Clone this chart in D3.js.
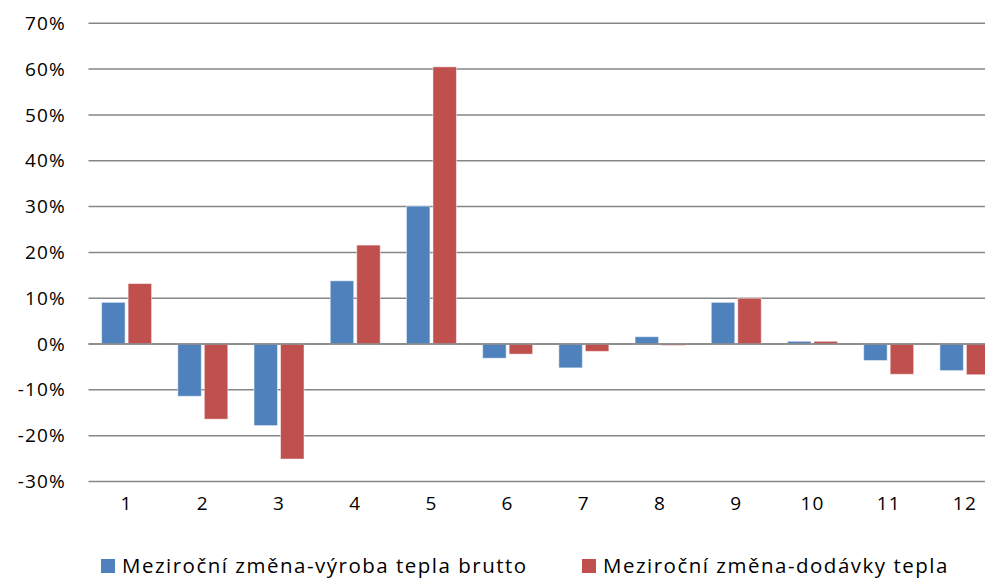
<!DOCTYPE html>
<html>
<head>
<meta charset="utf-8">
<script src="https://cdn.jsdelivr.net/npm/d3@7/dist/d3.min.js"></script>
<style>
  html, body { margin: 0; padding: 0; background: #fff; }
  svg { display: block; }
  text { font-family: "Open Sans", sans-serif; fill: #000; }
</style>
</head>
<body>
<svg id="chart" width="985" height="579"></svg>
<script>
// Months of the year
const categories = ["1", "2", "3", "4", "5", "6", "7", "8", "9", "10", "11", "12"];
// Year-on-year change of gross heat production (%)
const vyroba = [9.1, -11.4, -17.8, 13.8, 30.1, -3.1, -5.2, 1.6, 9.1, 0.6, -3.6, -5.8];
// Year-on-year change of heat supply (%)
const dodavky = [13.2, -16.4, -25.1, 21.6, 60.5, -2.2, -1.6, -0.3, 10.0, 0.6, -6.6, -6.7];
const seriesNames = ["Meziroční změna-výroba tepla brutto", "Meziroční změna-dodávky tepla"];
const yTicks = [-30, -20, -10, 0, 10, 20, 30, 40, 50, 60, 70];
const colors = ["#4F81BD", "#C0504D"];

const svg = d3.select("#chart");
const plot = { left: 88.5, right: 1003, top: 23.3, bottom: 481.5 };

const x = d3.scaleBand().domain(categories).range([plot.left, plot.right]).paddingInner(0).paddingOuter(0);
const y = d3.scaleLinear().domain([-30, 70]).range([plot.bottom, plot.top]);

// Horizontal gridlines
svg.append("g")
  .selectAll("line")
  .data(yTicks)
  .join("line")
  .attr("x1", plot.left)
  .attr("x2", plot.right)
  .attr("y1", d => y(d))
  .attr("y2", d => y(d))
  .attr("stroke", "#868686")
  .attr("stroke-width", 1.5);

// Y axis labels
const yAxis = d3.axisLeft(y).tickValues(yTicks).tickFormat(d => d + "%").tickSize(0).tickPadding(0);
const gy = svg.append("g").attr("transform", `translate(66,0)`).call(yAxis);
gy.select(".domain").remove();
gy.selectAll("text")
  .attr("font-size", 19)
  .attr("letter-spacing", "1.2px")
  .attr("font-family", "Open Sans, sans-serif")
  .attr("fill", "#000");

// Bars
const barW = 23.5, gap = 3;
const series = [vyroba, dodavky];
series.forEach((vals, si) => {
  svg.append("g")
    .selectAll("rect")
    .data(vals.map((v, i) => ({ cat: categories[i], v })))
    .join("rect")
    .attr("x", d => x(d.cat) + x.bandwidth() / 2 + (si === 0 ? -(barW + gap / 2) : gap / 2))
    .attr("width", barW)
    .attr("y", d => Math.min(y(d.v), y(0)))
    .attr("height", d => Math.abs(y(d.v) - y(0)))
    .attr("fill", colors[si])
    .attr("stroke", "#ffffff")
    .attr("stroke-opacity", 0.5)
    .attr("stroke-width", 1);
});

// Zero line drawn over bars
svg.append("line")
  .attr("x1", plot.left).attr("x2", plot.right)
  .attr("y1", y(0)).attr("y2", y(0))
  .attr("stroke", "#868686").attr("stroke-width", 1.5);

// X axis labels
const xAxis = d3.axisBottom(x).tickSize(0).tickPadding(0);
const gx = svg.append("g").attr("transform", `translate(0,${plot.bottom + 15})`).call(xAxis);
gx.select(".domain").remove();
gx.selectAll("text")
  .attr("font-size", 19)
  .attr("letter-spacing", "1.2px")
  .attr("font-family", "Open Sans, sans-serif")
  .attr("fill", "#000");

// Legend
const legendItems = [
  { name: seriesNames[0], color: colors[0], x: 101 },
  { name: seriesNames[1], color: colors[1], x: 582 }
];
const lg = svg.append("g");
legendItems.forEach(it => {
  lg.append("rect").attr("x", it.x).attr("y", 559).attr("width", 14).attr("height", 14).attr("fill", it.color);
  lg.append("text")
    .attr("x", it.x + 21)
    .attr("y", 573)
    .attr("font-size", 20.5)
    .attr("letter-spacing", "1.5px")
    .text(it.name);
});
</script>
</body>
</html>
